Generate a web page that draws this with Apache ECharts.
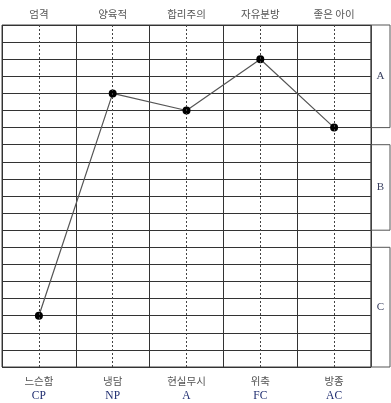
<!DOCTYPE html>
<html><head><meta charset="utf-8">
<script src="https://cdn.jsdelivr.net/npm/echarts@6/dist/echarts.min.js"></script>
<style>html,body{margin:0;padding:0;background:#fff}#c{width:391px;height:403px}</style>
</head><body><div id="c"></div>
<script>
const topLabels = ['엄격', '양육적', '합리주의', '자유분방', '좋은 아이'];
const bottomLabels = ['느슨함', '냉담', '현실무시', '위축', '방종'];
const codes = ['CP', 'NP', 'A', 'FC', 'AC'];
const values = [3, 16, 15, 18, 14];
const groupLabels = ['A', 'B', 'C'];
const groupFrom = [14, 8, 0];
const groupTo = [20, 13, 7];

const chart = echarts.init(document.getElementById('c'));
const lineColor = '#333';
chart.setOption({
  animation: false,
  grid: [
    {left: 2, right: 20, top: 25, bottom: 36, show: true, borderColor: '#444', borderWidth: 1},
    {left: 371, right: 1, top: 25, bottom: 36}
  ],
  xAxis: [
    {type: 'category', gridIndex: 0, position: 'bottom', data: bottomLabels, boundaryGap: true,
     axisLine: {show: false}, axisTick: {show: false},
     splitLine: {show: true, interval: 0, lineStyle: {color: lineColor, width: 1}},
     axisLabel: {interval: 0, margin: 7,
       formatter: (v, i) => '{n|' + v + '}\n{c|' + codes[i] + '}',
       rich: {
         n: {fontFamily: 'Noto Sans CJK KR', fontSize: 10.5, color: '#555', lineHeight: 15},
         c: {fontFamily: 'Liberation Serif', fontSize: 11.5, color: '#1f2d70', lineHeight: 14}
       }}},
    {type: 'category', gridIndex: 0, position: 'top', data: topLabels, boundaryGap: true,
     axisLine: {show: false}, axisTick: {show: false}, splitLine: {show: false},
     axisLabel: {interval: 0, margin: 6, fontFamily: 'Noto Sans CJK KR', fontSize: 10.5, color: '#555'}},
    {type: 'value', gridIndex: 1, min: 0, max: 1, show: false}
  ],
  yAxis: [
    {type: 'value', gridIndex: 0, min: 0, max: 20, interval: 1,
     axisLine: {show: false}, axisTick: {show: false}, axisLabel: {show: false},
     splitLine: {show: true, lineStyle: {color: lineColor, width: 1}}},
    {type: 'value', gridIndex: 1, min: 0, max: 20, show: false}
  ],
  series: [
    {type: 'line', xAxisIndex: 0, yAxisIndex: 0, data: values,
     symbol: 'circle', symbolSize: 8,
     itemStyle: {color: '#000'},
     lineStyle: {color: '#555', width: 1.2},
     markLine: {silent: true, symbol: 'none', label: {show: false},
       lineStyle: {type: [2, 2], color: '#444', width: 1},
       data: bottomLabels.map(c => ({xAxis: c}))}},
    {type: 'line', xAxisIndex: 2, yAxisIndex: 1, data: [],
     markArea: {silent: true,
       itemStyle: {color: 'rgba(0,0,0,0)', borderColor: '#555', borderWidth: 1},
       label: {show: true, position: 'inside', fontFamily: 'Liberation Serif', fontSize: 11, color: '#3a4060'},
       data: groupLabels.map((g, i) => [{name: g, yAxis: groupFrom[i], xAxis: 0}, {yAxis: groupTo[i], xAxis: 1}])}}
  ]
});
</script></body></html>
